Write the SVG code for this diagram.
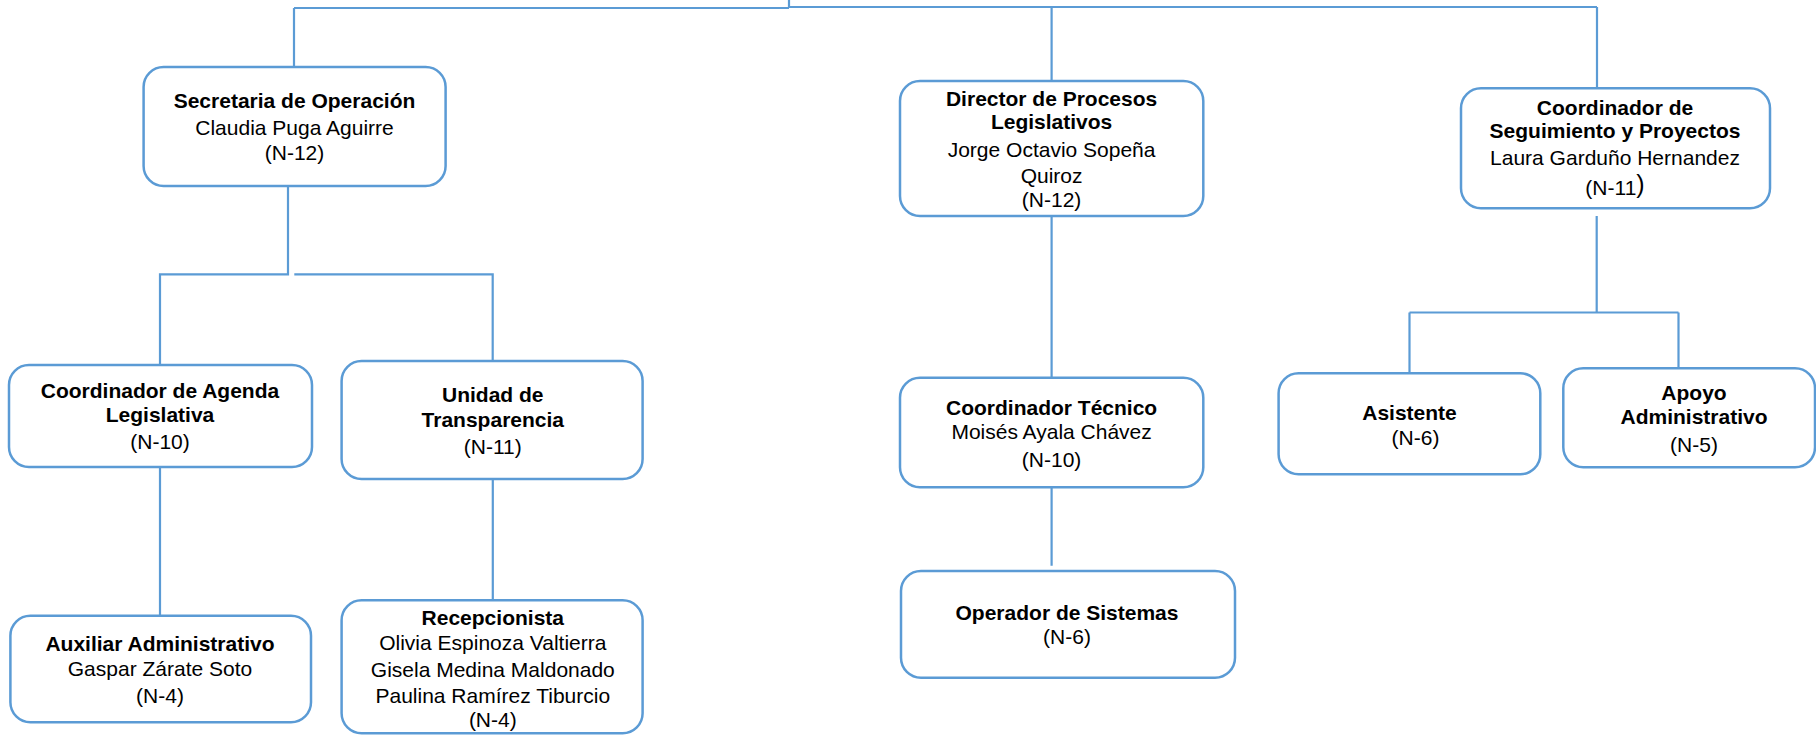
<svg xmlns="http://www.w3.org/2000/svg" width="1816" height="735" viewBox="0 0 1816 735">
<style>
.box{fill:#fff;stroke:#5B9BD5;stroke-width:2.5}
.con{fill:none;stroke:#5B9BD5;stroke-width:2.2}
text{font-family:"Liberation Sans",Arial,sans-serif;font-size:21px;fill:#000;text-anchor:middle}
.b{font-weight:bold}
</style>
<rect width="1816" height="735" fill="#fff"/>
<g id="connectors">
<path class="con" d="M789,0 V8 M294,8 H789 M789,7 H1597 M294,8 V67 M1051.6,7 V81 M1597,7 V88"/>
<path class="con" d="M288,186 V274.3 H160 V365 M294.3,274.3 H492.7 V361"/>
<path class="con" d="M160,467 V615.7 M492.8,479 V600.3"/>
<path class="con" d="M1051.6,216 V377.7 M1051.6,487 V565.7"/>
<path class="con" d="M1596.7,216 V312.5 M1409.5,312.5 H1678.5 M1409.5,312.5 V373.3 M1678.5,312.5 V368.3"/>
<path class="con" d="M1678.5,369 H1763" stroke-width="3"/>
</g>
<g id="secretaria">
<rect class="box" x="143.6" y="67" width="302" height="119" rx="20"/>
<text x="294.5" y="108.3" class="b">Secretaria de Operación</text>
<text x="294.5" y="135">Claudia Puga Aguirre</text>
<text x="294.5" y="160">(N-12)</text>
</g>
<g id="agenda">
<rect class="box" x="9" y="365" width="303" height="102" rx="20"/>
<text x="160" y="398.3" class="b">Coordinador de Agenda</text>
<text x="160" y="422.3" class="b">Legislativa</text>
<text x="160" y="449">(N-10)</text>
</g>
<g id="transparencia">
<rect class="box" x="341.6" y="361" width="301" height="118" rx="20"/>
<text x="492.8" y="401.7" class="b">Unidad de</text>
<text x="492.8" y="426.7" class="b">Transparencia</text>
<text x="492.8" y="454.3">(N-11)</text>
</g>
<g id="auxiliar">
<rect class="box" x="10.4" y="615.7" width="300.6" height="106.6" rx="20"/>
<text x="160" y="651" class="b">Auxiliar Administrativo</text>
<text x="160" y="675.7">Gaspar Zárate Soto</text>
<text x="160" y="703.3">(N-4)</text>
</g>
<g id="recepcionista">
<rect class="box" x="341.6" y="600.3" width="301" height="133" rx="20"/>
<text x="492.8" y="625" class="b">Recepcionista</text>
<text x="492.8" y="650">Olivia Espinoza Valtierra</text>
<text x="492.8" y="676.7">Gisela Medina Maldonado</text>
<text x="492.8" y="703.3">Paulina Ramírez Tiburcio</text>
<text x="492.8" y="726.7">(N-4)</text>
</g>
<g id="director">
<rect class="box" x="900" y="81" width="303.3" height="135" rx="20"/>
<text x="1051.6" y="106" class="b">Director de Procesos</text>
<text x="1051.6" y="129.3" class="b">Legislativos</text>
<text x="1051.6" y="156.7">Jorge Octavio Sopeña</text>
<text x="1051.6" y="182.7">Quiroz</text>
<text x="1051.6" y="207.3">(N-12)</text>
</g>
<g id="tecnico">
<rect class="box" x="900" y="377.7" width="303.3" height="109.6" rx="20"/>
<text x="1051.6" y="415" class="b">Coordinador Técnico</text>
<text x="1051.6" y="439">Moisés Ayala Chávez</text>
<text x="1051.6" y="466.7">(N-10)</text>
</g>
<g id="operador">
<rect class="box" x="901" y="571" width="334" height="106.7" rx="20"/>
<text x="1067" y="620" class="b">Operador de Sistemas</text>
<text x="1067" y="644.3">(N-6)</text>
</g>
<g id="seguimiento">
<rect class="box" x="1461" y="88.3" width="309" height="120" rx="20"/>
<text x="1615" y="115" class="b">Coordinador de</text>
<text x="1615" y="138.3" class="b">Seguimiento y Proyectos</text>
<text x="1615" y="165">Laura Garduño Hernandez</text>
<text x="1615" y="195">(N-11<tspan font-size="25" dy="-2">)</tspan></text>
</g>
<g id="asistente">
<rect class="box" x="1278.6" y="373.3" width="261.7" height="101" rx="20"/>
<text x="1409.5" y="420" class="b">Asistente</text>
<text x="1415.5" y="445">(N-6)</text>
</g>
<g id="apoyo">
<rect class="box" x="1563.3" y="368.3" width="251.7" height="99" rx="20"/>
<text x="1694" y="400" class="b">Apoyo</text>
<text x="1694" y="424" class="b">Administrativo</text>
<text x="1694" y="451.7">(N-5)</text>
</g>
</svg>
